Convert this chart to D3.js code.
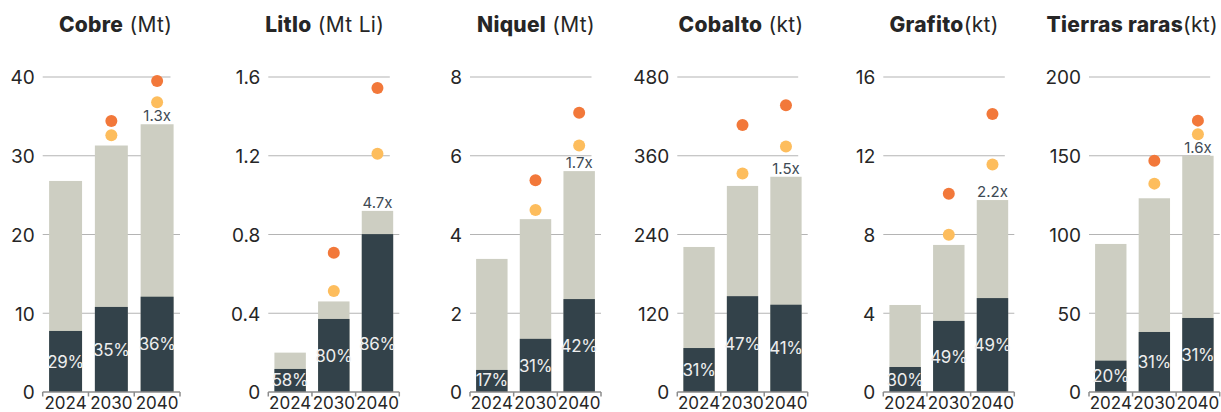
<!DOCTYPE html>
<html>
<head>
<meta charset="utf-8">
<script src="https://cdn.jsdelivr.net/npm/d3@7"></script>
<style>
  html, body { margin: 0; padding: 0; background: #ffffff; }
  svg { display: block; font-family: Inter, "Open Sans", sans-serif; }
</style>
</head>
<body>
<svg id="chart" width="1221" height="412"></svg>
<script>
// ---------------- DATA ----------------
const years = ["2024", "2030", "2040"];
const minerals = ["Cobre", "Litlo", "Niquel", "Cobalto", "Grafito", "Tierras raras"];
const titleUnits = [" (Mt)", " (Mt Li)", " (Mt)", " (kt)", "(kt)", "(kt)"];
const yMax = [40, 1.6, 8, 480, 16, 200];
const yTicks = [
  [0, 10, 20, 30, 40],
  [0, 0.4, 0.8, 1.2, 1.6],
  [0, 2, 4, 6, 8],
  [0, 120, 240, 360, 480],
  [0, 4, 8, 12, 16],
  [0, 50, 100, 150, 200]
];
// total demand (light bar height)
const totalDemand = [
  [26.8, 31.3, 34.0],
  [0.20, 0.46, 0.92],
  [3.38, 4.39, 5.61],
  [221, 314, 328],
  [4.42, 7.47, 9.75],
  [94, 123, 150]
];
// clean-energy demand (dark bar part)
const cleanDemand = [
  [7.75, 10.8, 12.1],
  [0.117, 0.371, 0.802],
  [0.56, 1.35, 2.36],
  [67, 146, 133],
  [1.27, 3.61, 4.77],
  [19.9, 38.1, 47]
];
const shareLabels = [
  ["29%", "35%", "36%"],
  ["58%", "80%", "86%"],
  ["17%", "31%", "42%"],
  ["31%", "47%", "41%"],
  ["30%", "49%", "49%"],
  ["20%", "31%", "31%"]
];
// scenario points (yellow = lower scenario, orange = higher scenario)
const scenarioLow = [
  [null, 32.6, 36.8],
  [null, 0.513, 1.21],
  [null, 4.62, 6.26],
  [null, 333, 374],
  [null, 7.99, 11.56],
  [null, 132.3, 163.6]
];
const scenarioHigh = [
  [null, 34.4, 39.5],
  [null, 0.707, 1.544],
  [null, 5.38, 7.09],
  [null, 407, 437],
  [null, 10.07, 14.12],
  [null, 146.9, 172.3]
];
const growthLabels = ["1.3x", "4.7x", "1.7x", "1.5x", "2.2x", "1.6x"];

// ---------------- LAYOUT ----------------
const plotTop = 77, plotBottom = 392;
const panelLayout = [
  { left: 42.7,  right: 180,    titleX: 115.5,  anchor: "middle" },
  { left: 268.3, right: 399.3,  titleX: 324.7,  anchor: "middle" },
  { left: 470,   right: 601,    titleX: 536,    anchor: "middle" },
  { left: 677.3, right: 807.7,  titleX: 741,    anchor: "middle" },
  { left: 883.3, right: 1014.3, titleX: 944,    anchor: "middle" },
  { left: 1089,  right: 1219.7, titleX: 1218,   anchor: "end" }
];
const colors = {
  dark: "#33424a",
  light: "#cdcec2",
  orange: "#f2783a",
  yellow: "#fdbd5d",
  grid: "#b4b4b4",
  axis: "#8c8c8c",
  text: "#262626",
  growth: "#3e4a54",
  share: "#eeeeee"
};

const svg = d3.select("#chart");
svg.append("rect").attr("width", 1221).attr("height", 412).attr("fill", "#fff");

minerals.forEach((name, i) => {
  const L = panelLayout[i];
  const g = svg.append("g");
  const y = d3.scaleLinear().domain([0, yMax[i]]).range([plotBottom, plotTop]);
  const x = d3.scaleBand().domain(years).range([L.left, L.right])
    .paddingInner(0.28).paddingOuter(0.14);
  const step = x.step();

  // gridlines (upper ones are slightly shorter, as in the reference)
  g.append("g").selectAll("line")
    .data(yTicks[i].filter(v => v > 0))
    .join("line")
    .attr("x1", L.left)
    .attr("x2", v => v > yMax[i] / 2 ? L.right - 9.5 : L.right)
    .attr("y1", v => y(v)).attr("y2", v => y(v))
    .attr("stroke", colors.grid).attr("stroke-width", 1.2);

  // y-axis labels
  const yAxis = d3.axisLeft(y).tickValues(yTicks[i]).tickSize(0).tickPadding(8)
    .tickFormat(d3.format("~g"));
  const ya = g.append("g").attr("transform", `translate(${L.left},0)`).call(yAxis);
  ya.select(".domain").remove();
  ya.selectAll("text").attr("font-size", 19).attr("fill", colors.text)
    .attr("font-family", "Inter, sans-serif").attr("dy", "0.36em");

  // bars: total (light) then clean (dark)
  g.append("g").selectAll("rect")
    .data(years.map((yr, j) => ({ yr, v: totalDemand[i][j] })))
    .join("rect")
    .attr("x", d => x(d.yr)).attr("width", x.bandwidth())
    .attr("y", d => y(d.v)).attr("height", d => y(0) - y(d.v))
    .attr("fill", colors.light);

  const darkData = years.map((yr, j) => ({ yr, v: cleanDemand[i][j], label: shareLabels[i][j] }));
  g.append("g").selectAll("rect")
    .data(darkData)
    .join("rect")
    .attr("x", d => x(d.yr)).attr("width", x.bandwidth())
    .attr("y", d => y(d.v)).attr("height", d => y(0) - y(d.v))
    .attr("fill", colors.dark);

  // share labels inside dark bars
  g.append("g").selectAll("text")
    .data(darkData)
    .join("text")
    .attr("x", d => x(d.yr) + x.bandwidth() / 2)
    .attr("y", d => {
      const mid = (y(d.v) + y(0)) / 2;
      return Math.min(Math.max(mid, y(0) - 48), y(0) - 12);
    })
    .attr("dy", "0.36em")
    .attr("text-anchor", "middle")
    .attr("font-size", 17).attr("font-weight", 400)
    .attr("letter-spacing", "-0.3")
    .attr("fill", colors.share)
    .text(d => d.label);

  // growth label above 2040 bar
  const last = years.length - 1;
  g.append("text")
    .attr("x", x(years[last]) + x.bandwidth() / 2)
    .attr("y", y(totalDemand[i][last]) - 3)
    .attr("text-anchor", "middle")
    .attr("font-size", 15)
    .attr("fill", colors.growth)
    .text(growthLabels[i]);

  // scenario dots
  const dots = [];
  years.forEach((yr, j) => {
    if (scenarioLow[i][j] != null) dots.push({ yr, v: scenarioLow[i][j], c: colors.yellow });
    if (scenarioHigh[i][j] != null) dots.push({ yr, v: scenarioHigh[i][j], c: colors.orange });
  });
  g.append("g").selectAll("circle")
    .data(dots)
    .join("circle")
    .attr("cx", d => x(d.yr) + x.bandwidth() / 2)
    .attr("cy", d => y(d.v))
    .attr("r", 6)
    .attr("fill", d => d.c);

  // x axis baseline with boundary ticks
  g.append("line")
    .attr("x1", L.left).attr("x2", L.right)
    .attr("y1", y(0)).attr("y2", y(0))
    .attr("stroke", colors.axis).attr("stroke-width", 1.5);
  g.append("g").selectAll("line")
    .data(d3.range(years.length + 1))
    .join("line")
    .attr("x1", k => L.left + k * step).attr("x2", k => L.left + k * step)
    .attr("y1", y(0)).attr("y2", y(0) + 4.5)
    .attr("stroke", colors.axis).attr("stroke-width", 1.5);

  const xAxis = d3.axisBottom(x).tickSize(0);
  const xa = g.append("g").attr("transform", `translate(0,${plotBottom})`).call(xAxis);
  xa.select(".domain").remove();
  xa.selectAll("text").attr("y", 17).attr("dy", null)
    .attr("font-size", 17).attr("fill", colors.text)
    .attr("font-family", "Inter, sans-serif");

  // title
  const t = svg.append("text")
    .attr("x", L.titleX).attr("y", 32)
    .attr("text-anchor", L.anchor)
    .attr("font-size", 21).attr("letter-spacing", "0.3").attr("fill", colors.text);
  t.append("tspan").attr("font-weight", 800).text(name);
  t.append("tspan").attr("font-weight", 400).text(titleUnits[i]);
});
</script>
</body>
</html>
